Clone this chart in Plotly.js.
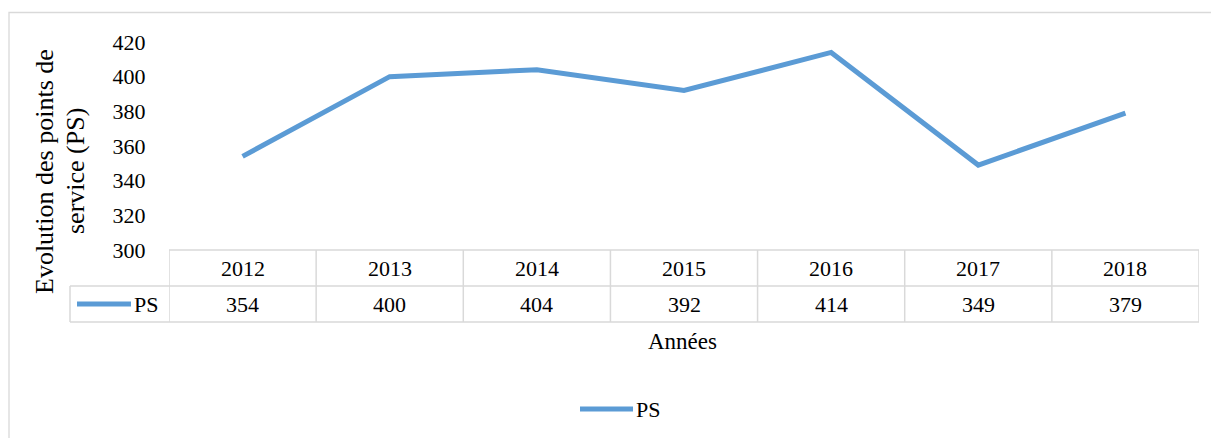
<!DOCTYPE html>
<html>
<head>
<meta charset="utf-8">
<script src="https://cdn.plot.ly/plotly-3.0.1.min.js"></script>
<style>
html,body{margin:0;padding:0;background:#fff;}
#chart{width:1211px;height:438px;}
</style>
</head>
<body>
<div id="chart"></div>
<script>
// ---- data ----
const years = ['2012','2013','2014','2015','2016','2017','2018'];
const psValues = [354, 400, 404, 392, 414, 349, 379];
const seriesName = 'PS';
const yTickVals = [300, 320, 340, 360, 380, 400, 420];

// ---- geometry helpers (plot area in pixels) ----
const W = 1211, H = 438;
const L = 169, R = 1199, T = 42, B = 250;
const pw = R - L, ph = B - T;
const px = x => (x - L) / pw;
const py = y => (B - y) / ph;

const FONT = 'Liberation Serif, Times New Roman, serif';
const GRID = '#d9d9d9';
const BLUE = '#5b9bd5';

const shapes = [];
const annotations = [];

// outer chart border
shapes.push({type:'rect', xref:'paper', yref:'paper', x0:px(9), x1:px(1216), y0:py(12.5), y1:py(444),
  line:{color:GRID, width:1.3}, fillcolor:'rgba(0,0,0,0)', layer:'below'});

// data table lines
const rowTop = 250, rowMid = 286, rowBot = 322, keyLeft = 70;
shapes.push({type:'line', xref:'paper', yref:'paper', x0:px(L), x1:px(R), y0:py(rowTop), y1:py(rowTop), line:{color:GRID, width:1.5}});
shapes.push({type:'line', xref:'paper', yref:'paper', x0:px(keyLeft), x1:px(R), y0:py(rowMid), y1:py(rowMid), line:{color:GRID, width:1.5}});
shapes.push({type:'line', xref:'paper', yref:'paper', x0:px(keyLeft), x1:px(R), y0:py(rowBot), y1:py(rowBot), line:{color:GRID, width:1.5}});
shapes.push({type:'line', xref:'paper', yref:'paper', x0:px(keyLeft), x1:px(keyLeft), y0:py(rowMid), y1:py(rowBot), line:{color:GRID, width:1.5}});
for (let i = 0; i <= years.length; i++) {
  shapes.push({type:'line', xref:'x', yref:'paper', x0:i-0.5, x1:i-0.5, y0:py(rowTop), y1:py(rowBot), line:{color:GRID, width:1.5}});
}

// table content
years.forEach((yr, i) => {
  annotations.push({xref:'x', yref:'paper', x:i, y:py(268.5), text:yr, showarrow:false,
    xanchor:'center', yanchor:'middle', font:{family:FONT, size:22, color:'#000'}});
  annotations.push({xref:'x', yref:'paper', x:i, y:py(304.5), text:String(psValues[i]), showarrow:false,
    xanchor:'center', yanchor:'middle', font:{family:FONT, size:22, color:'#000'}});
});

// legend key inside table
shapes.push({type:'line', xref:'paper', yref:'paper', x0:px(77), x1:px(131), y0:py(304), y1:py(304),
  line:{color:BLUE, width:5}});
annotations.push({xref:'paper', yref:'paper', x:px(132), y:py(304.5), text:seriesName, showarrow:false,
  xanchor:'left', yanchor:'middle', font:{family:FONT, size:22, color:'#000'}});

// bottom legend
shapes.push({type:'line', xref:'paper', yref:'paper', x0:px(580), x1:px(633), y0:py(409), y1:py(409),
  line:{color:BLUE, width:5}});
annotations.push({xref:'paper', yref:'paper', x:px(634), y:py(409.5), text:seriesName, showarrow:false,
  xanchor:'left', yanchor:'middle', font:{family:FONT, size:22, color:'#000'}});

// x-axis title
annotations.push({xref:'paper', yref:'paper', x:px(682), y:py(341), text:'Années', showarrow:false,
  xanchor:'center', yanchor:'middle', font:{family:FONT, size:23, color:'#000'}});

// y-axis title (two lines)
annotations.push({xref:'paper', yref:'paper', x:px(44), y:py(172), text:'Evolution des points de', showarrow:false,
  textangle:-90, xanchor:'center', yanchor:'middle', font:{family:FONT, size:26, color:'#000'}});
annotations.push({xref:'paper', yref:'paper', x:px(75), y:py(171), text:'service (PS)', showarrow:false,
  textangle:-90, xanchor:'center', yanchor:'middle', font:{family:FONT, size:26, color:'#000'}});

const trace = {
  type:'scatter', mode:'lines', x:years, y:psValues, name:seriesName,
  line:{color:BLUE, width:5, shape:'linear'},
  showlegend:false, hoverinfo:'x+y'
};

const layout = {
  width:W, height:H,
  margin:{l:L, r:W-R, t:T, b:H-B, pad:0},
  paper_bgcolor:'#fff', plot_bgcolor:'#fff',
  showlegend:false,
  xaxis:{type:'category', categoryorder:'array', categoryarray:years, range:[-0.5, years.length-0.5],
    showticklabels:false, showgrid:false, zeroline:false, showline:false, ticks:'', fixedrange:true},
  yaxis:{range:[300, 420], tickvals:yTickVals, ticktext:yTickVals.map(String),
    showgrid:false, zeroline:false, showline:false,
    ticks:'outside', ticklen:18, tickcolor:'rgba(0,0,0,0)',
    tickfont:{family:FONT, size:22, color:'#000'}, fixedrange:true},
  shapes:shapes,
  annotations:annotations
};

Plotly.newPlot('chart', [trace], layout, {displayModeBar:false, staticPlot:true});
</script>
</body>
</html>
